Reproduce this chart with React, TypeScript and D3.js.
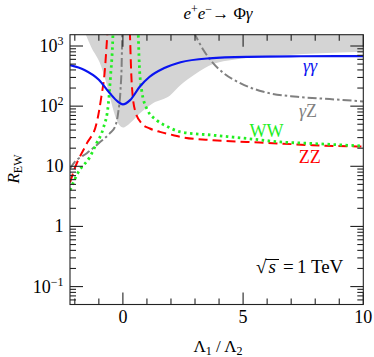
import { useEffect, useRef } from 'react'
import * as d3 from 'd3'

// axis ticks
const xMinorTicks = [-2, -1, 0, 1, 2, 3, 4, 5, 6, 7, 8, 9, 10]
const xMajorTicks = [0, 5, 10]
const yMajorTicks = [0.1, 1, 10, 100, 1000]
const yTickBase = ['10', '1', '10', '10', '10']
const yTickExp = ['−1', '', '', '2', '3']

// gamma gamma (blue, solid)
const ggX = [-2.2, -1.6, -1.0, -0.55, -0.2, 0, 0.3, 0.7, 1.1, 1.7, 2.4, 3.6, 5.2, 7.4, 10]
const ggY = [482, 400, 275, 165, 118, 107, 126, 210, 305, 425, 536, 624, 661, 675, 681]

// shaded band, lower edge (upper edge lies above the frame)
const bandX = [-1.75, -1.3, -0.96, -0.7, -0.54, -0.33, -0.12, 0, 0.36, 0.71, 1.25, 1.96, 2.4, 3.0, 3.75, 4.6, 6, 8, 10]
const bandLo = [2500, 930, 525, 250, 143, 70, 47, 44, 55, 76, 112, 151, 225, 340, 500, 590, 676, 750, 804]
const bandHi = 5000

// gamma Z (gray, dash-dot)
const gzLeftX = [-2.2, -2.0, -1.5, -0.96, -0.54, -0.33, -0.2, -0.1, -0.05, -0.02]
const gzLeftY = [9.2, 11.8, 16.5, 25, 35.5, 45, 76, 185, 520, 3000]
const gzRightX = [2.95, 3.35, 3.7, 4.2, 4.9, 5.85, 7.25, 8.6, 10]
const gzRightY = [1700, 858, 547, 351, 239, 173, 143, 131, 120]

// ZZ (red, dashed)
const zzLeftX = [-2.2, -2.0, -1.5, -1.1, -0.9, -0.75, -0.66, -0.6]
const zzLeftY = [5.4, 9.3, 24, 51, 140, 400, 1300, 3000]
const zzRightX = [0.27, 0.3, 0.36, 0.5, 0.78, 1.12, 1.54, 2.1, 2.4, 3.75, 5.15, 6.55, 7.9, 10]
const zzRightY = [3000, 1300, 271, 86, 51.5, 42.5, 37.3, 32.9, 30.8, 27.1, 25.4, 23.9, 22.4, 21.3]

// WW (green, dotted)
const wwLeftX = [-2.2, -1.86, -1.375, -1.1, -0.82, -0.61, -0.51, -0.43, -0.39]
const wwLeftY = [4.0, 7.9, 14.3, 23.9, 42.5, 104, 329, 1040, 3000]
const wwRightX = [0.6, 0.64, 0.68, 0.78, 0.99, 1.4, 1.82, 2.4, 3.75, 5.15, 6.55, 7.9, 10]
const wwRightY = [3000, 1500, 515, 185, 91.5, 58.5, 46.4, 37.3, 32.9, 29, 25.4, 23.9, 21.7]

const FONT = '"Liberation Serif", "DejaVu Serif", serif'
const FRAME = '#222'

const App = () => {
	const svgRef = useRef(null)

	useEffect(() => {
		const left = 70
		const right = 363.3
		const top = 34.7
		const bottom = 304.5

		const svg = d3.select(svgRef.current)
		svg.selectAll('*').remove()

		const x = d3.scaleLinear().domain([-2.2, 10]).range([left, right])
		const y = d3
			.scaleLog()
			.domain([Math.pow(10, -1.298), Math.pow(10, 3.188)])
			.range([bottom, top])

		svg
			.append('defs')
			.append('clipPath')
			.attr('id', 'plot-clip')
			.append('rect')
			.attr('x', left)
			.attr('y', top)
			.attr('width', right - left)
			.attr('height', bottom - top)

		const plot = svg.append('g').attr('clip-path', 'url(#plot-clip)')

		// Gray band
		const area = d3
			.area<number>()
			.x((d) => x(bandX[d]))
			.y0((d) => y(bandLo[d]))
			.y1(() => y(bandHi))
			.curve(d3.curveMonotoneX)
		plot
			.append('path')
			.attr('d', area(d3.range(bandX.length)))
			.attr('fill', '#d4d4d4')

		const line = d3
			.line<[number, number]>()
			.x((d) => x(d[0]))
			.y((d) => y(d[1]))
			.curve(d3.curveMonotoneX)
		const zip = (xs: number[], ys: number[]) => xs.map((v, i) => [v, ys[i]] as [number, number])

		const curves = [
			{ xs: gzLeftX, ys: gzLeftY, color: '#808080', dash: '9,3,2.5,3', w: 2 },
			{ xs: gzRightX, ys: gzRightY, color: '#808080', dash: '9,3,2.5,3', w: 2 },
			{ xs: zzLeftX, ys: zzLeftY, color: '#ff0000', dash: '9,5', w: 2 },
			{ xs: zzRightX, ys: zzRightY, color: '#ff0000', dash: '9,5', w: 2 },
			{ xs: wwLeftX, ys: wwLeftY, color: '#22ee22', dash: '2.5,3.5', w: 2.8 },
			{ xs: wwRightX, ys: wwRightY, color: '#22ee22', dash: '2.5,3.5', w: 2.8 },
			{ xs: ggX, ys: ggY, color: '#0a14f0', dash: null, w: 2.2 },
		]
		curves.forEach((c) => {
			plot
				.append('path')
				.attr('d', line(zip(c.xs, c.ys)))
				.attr('fill', 'none')
				.attr('stroke', c.color)
				.attr('stroke-width', c.w)
				.attr('stroke-dasharray', c.dash)
		})

		// Frame and inward ticks on all four sides
		const axes = svg.append('g').attr('stroke', FRAME).attr('stroke-width', 1.1)
		axes
			.append('rect')
			.attr('x', left)
			.attr('y', top)
			.attr('width', right - left)
			.attr('height', bottom - top)
			.attr('fill', 'none')

		xMinorTicks.forEach((t) => {
			const len = xMajorTicks.includes(t) ? 12 : 6
			axes.append('line').attr('x1', x(t)).attr('x2', x(t)).attr('y1', bottom).attr('y2', bottom - len)
			axes.append('line').attr('x1', x(t)).attr('x2', x(t)).attr('y1', top).attr('y2', top + len)
		})

		const [y0, y1] = y.domain()
		for (let e = -2; e <= 3; e++) {
			for (let k = 1; k <= 9; k++) {
				const v = k * Math.pow(10, e)
				if (v < y0 || v > y1) continue
				const len = k === 1 ? 13 : 6
				axes.append('line').attr('x1', left).attr('x2', left + len).attr('y1', y(v)).attr('y2', y(v))
				axes.append('line').attr('x1', right).attr('x2', right - len).attr('y1', y(v)).attr('y2', y(v))
			}
		}

		// Tick labels
		xMajorTicks.forEach((t) => {
			svg
				.append('text')
				.attr('x', x(t))
				.attr('y', 323)
				.attr('text-anchor', 'middle')
				.attr('font-family', FONT)
				.attr('font-size', 18)
				.text(t)
		})

		yMajorTicks.forEach((t, i) => {
			const txt = svg
				.append('text')
				.attr('x', 63.5)
				.attr('y', y(t) + 6)
				.attr('text-anchor', 'end')
				.attr('font-family', FONT)
				.attr('font-size', 18)
			txt.append('tspan').text(yTickBase[i])
			if (yTickExp[i]) {
				txt.append('tspan').attr('dy', -7).attr('font-size', 12).text(yTickExp[i])
			}
		})

		// Axis titles
		const xl = svg
			.append('text')
			.attr('x', 218)
			.attr('y', 351.5)
			.attr('text-anchor', 'middle')
			.attr('font-family', FONT)
			.attr('font-size', 17)
		xl.append('tspan').text('Λ')
		xl.append('tspan').attr('dy', 3.5).attr('font-size', 12).text('1')
		xl.append('tspan').attr('dy', -3.5).text(' / Λ')
		xl.append('tspan').attr('dy', 3.5).attr('font-size', 12).text('2')

		const yl = svg
			.append('text')
			.attr('transform', 'translate(18.5,169) rotate(-90)')
			.attr('text-anchor', 'middle')
			.attr('font-family', FONT)
			.attr('font-size', 17)
		yl.append('tspan').attr('font-style', 'italic').text('R')
		yl.append('tspan').attr('dy', 3.5).attr('font-size', 12).text('EW')

		// Title
		const title = svg
			.append('text')
			.attr('x', 218)
			.attr('y', 18.5)
			.attr('text-anchor', 'middle')
			.attr('font-family', FONT)
			.attr('font-size', 17)
		title.append('tspan').attr('font-style', 'italic').text('e')
		title.append('tspan').attr('dy', -6).attr('font-size', 12).text('+')
		title.append('tspan').attr('dy', 6).attr('font-style', 'italic').text('e')
		title.append('tspan').attr('dy', -6).attr('font-size', 12).text('−')
		title.append('tspan').attr('dy', 6).text('→ Φ')
		title.append('tspan').attr('font-style', 'italic').text('γ')

		// Curve labels
		const label = (px: number, py: number, color: string) =>
			svg
				.append('text')
				.attr('x', px)
				.attr('y', py)
				.attr('text-anchor', 'middle')
				.attr('font-family', FONT)
				.attr('font-size', 18)
				.attr('fill', color)

		label(310, 72, '#0a14f0').attr('font-style', 'italic').text('γγ')
		const gz = label(308, 116.5, '#808080')
		gz.append('tspan').attr('font-style', 'italic').text('γ')
		gz.append('tspan').text('Z')
		label(266.5, 137, '#22ee22').text('WW')
		label(309.7, 163, '#ff0000').text('ZZ')

		// sqrt(s) = 1 TeV
		const note = (px: number, txt: string) =>
			svg
				.append('text')
				.attr('x', px)
				.attr('y', 273)
				.attr('font-family', FONT)
				.attr('font-size', 19)
				.text(txt)
		note(256, '√')
		svg
			.append('line')
			.attr('x1', 265.5)
			.attr('x2', 279)
			.attr('y1', 259.5)
			.attr('y2', 259.5)
			.attr('stroke', '#000')
			.attr('stroke-width', 1)
		note(268.5, 's').attr('font-style', 'italic')
		note(283, '=')
		note(297, '1 TeV')
	}, [])

	return (
		<svg
			ref={svgRef}
			width={374}
			height={357}
			style={{ position: 'absolute', left: 0, top: 0, background: '#fff' }}
		></svg>
	)
}

export default App
